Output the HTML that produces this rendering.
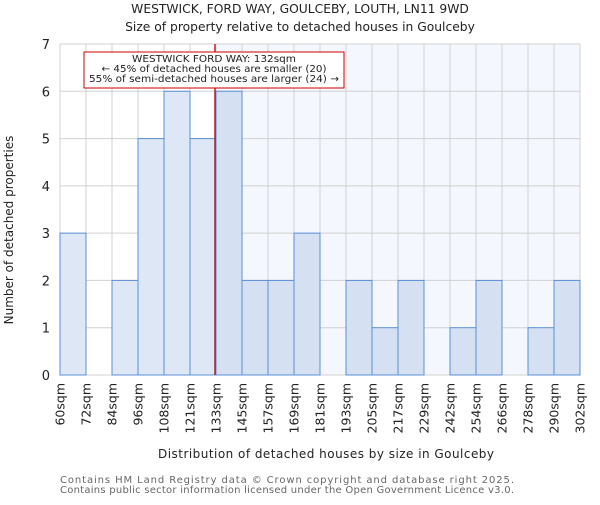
<!DOCTYPE html>
<html><head><meta charset="utf-8"><style>
body{margin:0;background:#fff}
svg{font-family:"DejaVu Sans","Liberation Sans",sans-serif}
</style></head><body>
<svg id="c" width="600" height="500" xmlns="http://www.w3.org/2000/svg">
<text x="300" y="13" text-anchor="middle" font-size="12.3" fill="#222">WESTWICK, FORD WAY, GOULCEBY, LOUTH, LN11 9WD</text>
<text x="300" y="31" text-anchor="middle" font-size="12.3" fill="#222">Size of property relative to detached houses in Goulceby</text>
<g id="plot"></g>
<text x="326" y="458" text-anchor="middle" font-size="12" fill="#222" textLength="336">Distribution of detached houses by size in Goulceby</text>
<text transform="translate(13,230) rotate(-90)" text-anchor="middle" font-size="12" fill="#222">Number of detached properties</text>
<text x="60" y="483" font-size="10" fill="#666" textLength="454">Contains HM Land Registry data © Crown copyright and database right 2025.</text>
<text x="60" y="493" font-size="10" fill="#666" textLength="454">Contains public sector information licensed under the Open Government Licence v3.0.</text>
</svg>
<script>
const binLabels=["60sqm","72sqm","84sqm","96sqm","108sqm","121sqm","133sqm","145sqm","157sqm","169sqm","181sqm","193sqm","205sqm","217sqm","229sqm","242sqm","254sqm","266sqm","278sqm","290sqm","302sqm"];
const counts=[3,0,2,5,6,5,6,2,2,3,0,2,1,2,0,1,2,0,1,2];
const yTicks=[0,1,2,3,4,5,6,7];
const markerIndex=5.96;
const NS="http://www.w3.org/2000/svg";
const L=60,R=580,T=44,B=375,yMax=7;
const n=counts.length,bw=(R-L)/n;
const x=i=>L+i*bw, y=v=>B-(v/yMax)*(B-T);
const g=document.getElementById('plot');
function mk(t,a){const e=document.createElementNS(NS,t);for(const k in a)e.setAttribute(k,a[k]);g.appendChild(e);return e;}
const mx=x(markerIndex);
let e=mk('rect',{x:mx,y:T,width:R-mx,height:B-T,fill:'#f4f7fd'});


for(let i=0;i<=n;i++){e=mk('line',{x1:x(i),x2:x(i),y1:T,y2:B,stroke:'#d0d0d0','stroke-width':1});

}
yTicks.forEach(v=>{e=mk('line',{x1:L,x2:R,y1:y(v),y2:y(v),stroke:'#d0d0d0','stroke-width':1});


e=mk('text',{x:L-10,y:y(v)+5,'text-anchor':'end','font-size':13,fill:'#222'});e.textContent=v;

});
counts.forEach((c,i)=>{if(!c)return;
e=mk('rect',{x:x(i),y:y(c),width:bw,height:B-y(c),fill:x(i)>=mx-1?'#d5e1f3':'#dde7f5',stroke:'#5b8fd6','stroke-width':1});

});
binLabels.forEach((l,i)=>{e=mk('text',{transform:`translate(${x(i)+4.5},383) rotate(-90)`,'text-anchor':'end','font-size':12.5,fill:'#222'});e.textContent=l;

});
e=mk('line',{x1:mx,x2:mx,y1:T,y2:B,stroke:'#aa0000','stroke-width':1.2});


e=mk('rect',{x:84,y:52,width:260,height:36,fill:'#fff',stroke:'#cc0000','stroke-width':1});


const ann=[["WESTWICK FORD WAY: 132sqm",164],["← 45% of detached houses are smaller (20)",225],["55% of semi-detached houses are larger (24) →",250]];
ann.forEach((a,k)=>{
e=mk('text',{x:214,y:62+k*10,'text-anchor':'middle','font-size':10,fill:'#222',textLength:a[1],lengthAdjust:'spacingAndGlyphs'});e.textContent=a[0];

});
</script>
</body></html>
